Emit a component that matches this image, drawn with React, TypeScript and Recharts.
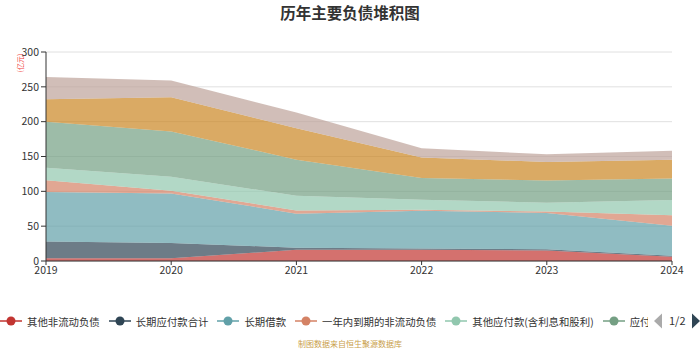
import { AreaChart, Area, XAxis, YAxis, CartesianGrid } from 'recharts';

const years = ['2019', '2020', '2021', '2022', '2023', '2024'];
const yTicks = [0, 50, 100, 150, 200, 250, 300];

// 亿元, bottom of the stack first
const otherNonCurrent = [4, 4, 16, 16, 15, 6];
const longTermPayables = [24, 22, 3, 2, 2, 1.5];
const longTermLoans = [71, 71, 49, 54, 52, 43];
const currentPortionNonCurrent = [17, 4, 4.5, 1.5, 2, 15];
const otherPayables = [18, 20, 21, 14.5, 12.7, 22];
const accountsPayable = [66, 65, 52, 31, 32, 31];
const notesPayable = [32, 49, 45, 29.5, 26.4, 26.7];
const shortTermLoans = [32, 24, 22.5, 13.5, 11, 13];

const series = [
  { key: 'a', name: '其他非流动负债', color: '#c23531', values: otherNonCurrent },
  { key: 'b', name: '长期应付款合计', color: '#2f4554', values: longTermPayables },
  { key: 'c', name: '长期借款', color: '#61a0a8', values: longTermLoans },
  { key: 'd', name: '一年内到期的非流动负债', color: '#d48265', values: currentPortionNonCurrent },
  { key: 'e', name: '其他应付款(含利息和股利)', color: '#91c7ae', values: otherPayables },
  { key: 'f', name: '应付账款', color: '#749f83', values: accountsPayable },
  { key: 'g', name: '应付票据', color: '#ca8622', values: notesPayable },
  { key: 'h', name: '短期借款', color: '#bda29a', values: shortTermLoans },
];

const chartData = years.map((year, i) => {
  const row: Record<string, string | number> = { year };
  series.forEach((s) => {
    row[s.key] = s.values[i];
  });
  return row;
});

const font = '"Noto Sans CJK SC", "Liberation Sans", sans-serif';

function LegendBar() {
  return (
    <div
      style={{
        position: 'absolute',
        left: 0,
        top: 313,
        width: 700,
        height: 16,
        fontFamily: font,
        fontSize: 10.4,
        color: '#333',
      }}
    >
      <div
        style={{
          position: 'absolute',
          left: 0,
          top: 0,
          width: 648,
          height: 16,
          overflow: 'hidden',
          whiteSpace: 'nowrap',
          display: 'flex',
          alignItems: 'center',
        }}
      >
        {series.map((s) => (
          <div key={s.key} style={{ display: 'flex', alignItems: 'center', marginRight: 9, flexShrink: 0 }}>
            <svg width={22} height={12} style={{ marginRight: 5 }}>
              <line x1={0} y1={6} x2={22} y2={6} stroke={s.color} strokeWidth={1.5} />
              <circle cx={11} cy={6} r={4.5} fill={s.color} />
            </svg>
            <span>{s.name}</span>
          </div>
        ))}
      </div>
      <svg width={52} height={16} style={{ position: 'absolute', left: 648, top: 0 }}>
        <polygon points="14,8 6,0.5 6,15.5" transform="scale(-1,1) translate(-20,0)" fill="#aaa" />
        <text x={21} y={12} fontSize={11} fill="#333" fontFamily={font}>1/2</text>
        <polygon points="44,0.5 52,8 44,15.5" fill="#2f4554" />
      </svg>
    </div>
  );
}

export default function App() {
  return (
    <div style={{ position: 'relative', width: 700, height: 350, background: '#fff', fontFamily: font }}>
      <style>{'body{margin:0}'}</style>
      <div
        style={{
          position: 'absolute',
          top: 2,
          left: 0,
          width: 700,
          textAlign: 'center',
          fontSize: 15.5,
          fontWeight: 'bold',
          color: '#333',
          lineHeight: '20px',
        }}
      >
        历年主要负债堆积图
      </div>
      <div
        style={{
          position: 'absolute',
          left: 9,
          top: 58,
          width: 22,
          height: 10,
          fontSize: 7,
          lineHeight: '10px',
          color: '#f03c3c',
          textAlign: 'center',
          transform: 'rotate(-90deg)',
        }}
      >
        (亿元)
      </div>
      <AreaChart
        width={700}
        height={350}
        data={chartData}
        margin={{ top: 52, right: 28, left: 0, bottom: 69 }}
      >
        <CartesianGrid vertical={false} stroke="#e0e0e0" />
        <XAxis
          dataKey="year"
          height={20}
          interval={0}
          tickSize={4}
          stroke="#333"
          tick={{ fill: '#333', fontSize: 10.5, fontFamily: font }}
        />
        <YAxis
          width={46}
          domain={[0, 300]}
          ticks={yTicks}
          tickSize={5}
          stroke="#333"
          tick={{ fill: '#333', fontSize: 10.5, fontFamily: font }}
        />
        {series.map((s) => (
          <Area
            key={s.key}
            type="linear"
            dataKey={s.key}
            name={s.name}
            stackId="1"
            stroke="none"
            fill={s.color}
            fillOpacity={0.7}
            dot={false}
            activeDot={false}
            isAnimationActive={false}
          />
        ))}
      </AreaChart>
      <LegendBar />
      <div
        style={{
          position: 'absolute',
          top: 339,
          left: 0,
          width: 700,
          textAlign: 'center',
          fontSize: 8,
          lineHeight: '10px',
          color: '#c9a04a',
        }}
      >
        制图数据来自恒生聚源数据库
      </div>
    </div>
  );
}
